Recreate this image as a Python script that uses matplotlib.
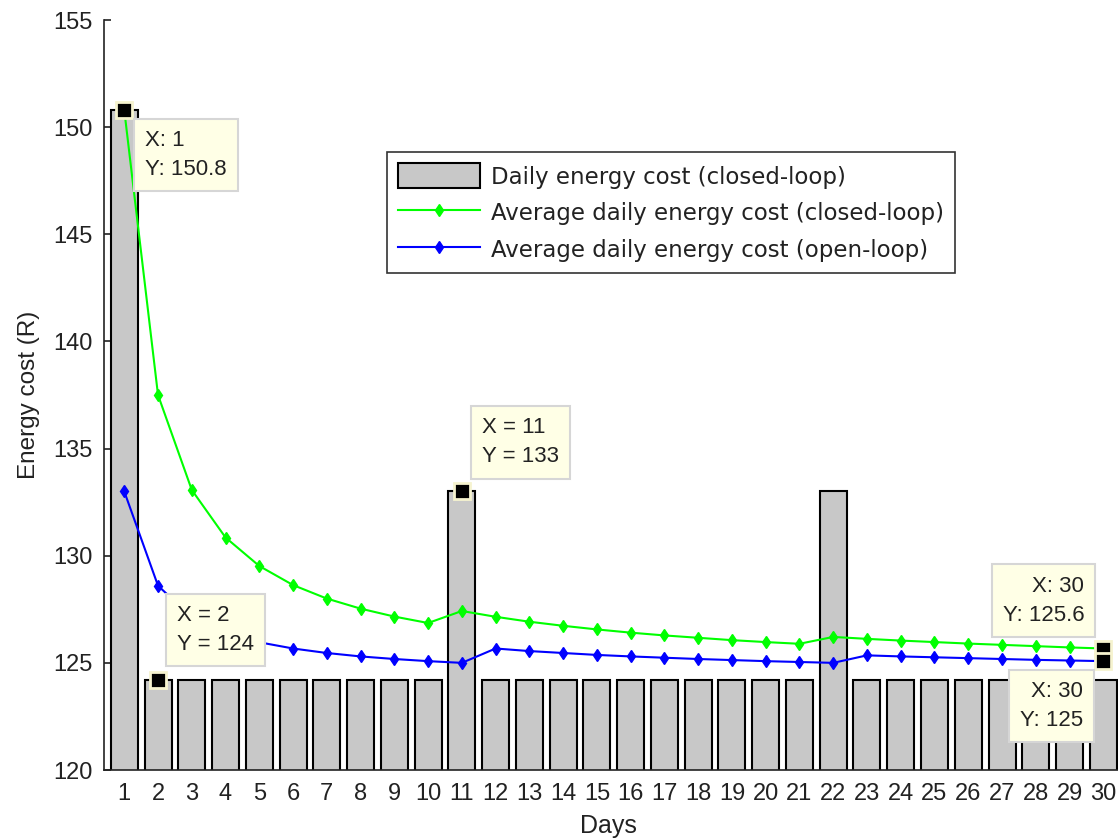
import matplotlib
matplotlib.use("Agg")
import matplotlib.pyplot as plt
import numpy as np

plt.rcParams['font.family'] = ['Liberation Sans', 'DejaVu Sans']

days = list(range(1, 31))

# Daily energy cost of the closed-loop schedule (R)
daily_cost_closed = [150.8, 124.2, 124.2, 124.2, 124.2, 124.2, 124.2, 124.2, 124.2, 124.2,
                     133.0, 124.2, 124.2, 124.2, 124.2, 124.2, 124.2, 124.2, 124.2, 124.2,
                     124.2, 133.0, 124.2, 124.2, 124.2, 124.2, 124.2, 124.2, 124.2, 124.2]

# Running average of the daily cost, closed-loop (R)
avg_cost_closed = [150.8, 137.5, 133.07, 130.85, 129.52, 128.63, 128.0, 127.53, 127.16, 126.86,
                   127.42, 127.15, 126.92, 126.73, 126.56, 126.41, 126.28, 126.17, 126.06, 125.97,
                   125.89, 126.21, 126.12, 126.04, 125.97, 125.9, 125.84, 125.78, 125.72, 125.67]

# Running average of the daily cost, open-loop (R)
avg_cost_open = [133.0, 128.6, 127.13, 126.4, 125.96, 125.67, 125.46, 125.3, 125.18, 125.08,
                 125.0, 125.67, 125.55, 125.46, 125.37, 125.3, 125.24, 125.18, 125.13, 125.08,
                 125.04, 125.0, 125.35, 125.3, 125.26, 125.22, 125.18, 125.14, 125.11, 125.08]

# Data tips: (x, y, text, horizontal alignment, offset in pixels)
tips = [
    (1, 150.8, "X: 1\nY: 150.8", 'left', (21, -20)),
    (2, 124.2, "X = 2\nY = 124", 'left', (19, 75)),
    (11, 133.0, "X = 11\nY = 133", 'left', (20, 74)),
    (30, 125.67, "X: 30\nY: 125.6", 'right', (-19, 73)),
    (30, 125.08, "X: 30\nY: 125", 'right', (-20, -20)),
]

W, H = 1118, 838
fig = plt.figure(figsize=(W / 100, H / 100), dpi=100)
ax_left, ax_bottom, ax_top = 104, 770, 20
x_min, x_max = 0.4, 30.6
px_per_day = 33.76
ax_w = (x_max - x_min) * px_per_day
ax_h = ax_bottom - ax_top
ax = fig.add_axes([ax_left / W, (H - ax_bottom) / H, ax_w / W, ax_h / H])

bars = ax.bar(days, daily_cost_closed, width=0.8, color='#c8c8c8', edgecolor='black',
              linewidth=1.5, label='Daily energy cost (closed-loop)', zorder=2)
l_closed, = ax.plot(days, avg_cost_closed, color='#00ff00', lw=1.5, marker='d', ms=6,
                    label='Average daily energy cost (closed-loop)', zorder=3)
l_open, = ax.plot(days, avg_cost_open, color='#0000ff', lw=1.5, marker='d', ms=6,
                  label='Average daily energy cost (open-loop)', zorder=3)

ax.set_xlim(x_min, x_max)
ax.set_ylim(120, 155)
ax.set_xticks(days)
ax.set_yticks(np.arange(120, 156, 5))
ax.tick_params(direction='in', labelsize=17, length=5, width=1.2, pad=8, colors='#222222')
ax.tick_params(axis='x', pad=9)
for s in ['top', 'right']:
    ax.spines[s].set_visible(False)
for s in ['left', 'bottom']:
    ax.spines[s].set_linewidth(1.2)
    ax.spines[s].set_color('#222222')

ax.set_xlabel('Days', fontsize=18, color='#222222', va='top')
ax.xaxis.set_label_coords(504 / ax_w, -44 / ax_h)
ax.set_ylabel('Energy cost (R)', fontsize=17.5, labelpad=10, color='#222222')

leg = ax.legend([bars, l_closed, l_open],
                [bars.get_label(), l_closed.get_label(), l_open.get_label()],
                loc='upper left', bbox_to_anchor=(0.2775, 0.824), borderaxespad=0,
                prop={'family': 'DejaVu Sans', 'size': 16.5},
                frameon=True, fancybox=False, edgecolor='black',
                handlelength=3.54, handleheight=1.3, labelspacing=0.5,
                handletextpad=0.5, borderpad=0.5)
leg.get_frame().set_linewidth(1.2)
for t in leg.get_texts():
    t.set_color('#222222')

for x, y, txt, ha, off in tips:
    ax.plot([x], [y], marker='s', ms=11, mfc='black', mec='#f6f3cf', mew=2,
            zorder=6, clip_on=False)
    ax.annotate(txt, xy=(x, y), xytext=off, textcoords='offset pixels',
                ha=ha, va='top', fontsize=16, color='#222222', linespacing=1.5,
                zorder=7, annotation_clip=False,
                bbox=dict(boxstyle='square,pad=0.5', fc='#ffffe6', ec='#d6d6d6', lw=1.5))

fig.savefig('out.png', dpi=100)
